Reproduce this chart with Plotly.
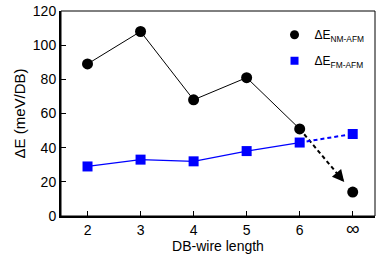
import plotly.graph_objects as go

lengths = [2, 3, 4, 5, 6]
inf_pos = 7
tick_vals = [2, 3, 4, 5, 6, 7]
tick_text = ["2", "3", "4", "5", "6", "<span style='font-size:19px'>∞</span>"]
y_ticks = [0, 20, 40, 60, 80, 100, 120]

nm_afm = [89, 108, 68, 81, 51]
nm_afm_inf = 14
fm_afm = [29, 33, 32, 38, 43]
fm_afm_inf = 48

FONT = "Liberation Sans, Arial, sans-serif"
BLUE = "#0000ff"

fig = go.Figure()

def arrow_pts(x0, y0, x1, y1, frac):
    return x0 + (x1 - x0) * frac, y0 + (y1 - y0) * frac

# dashed extrapolation lines
bx, by = arrow_pts(lengths[-1], nm_afm[-1], inf_pos, nm_afm_inf, 0.84)
fx, fy = arrow_pts(lengths[-1], fm_afm[-1], inf_pos, fm_afm_inf, 0.86)
fig.add_trace(go.Scatter(x=[lengths[-1], bx], y=[nm_afm[-1], by], mode="lines",
                         line=dict(color="black", width=2, dash="4px,3px"), showlegend=False))
fig.add_trace(go.Scatter(x=[lengths[-1], fx], y=[fm_afm[-1], fy], mode="lines",
                         line=dict(color=BLUE, width=2, dash="4px,3px"), showlegend=False))

# main series
fig.add_trace(go.Scatter(x=lengths, y=nm_afm, mode="lines",
                         line=dict(color="black", width=1), showlegend=False))
fig.add_trace(go.Scatter(x=lengths + [inf_pos], y=nm_afm + [nm_afm_inf], mode="markers",
                         marker=dict(symbol="circle", size=11, color="black"), showlegend=False))
fig.add_trace(go.Scatter(x=lengths, y=fm_afm, mode="lines",
                         line=dict(color=BLUE, width=1.2), showlegend=False))
fig.add_trace(go.Scatter(x=lengths + [inf_pos], y=fm_afm + [fm_afm_inf], mode="markers",
                         marker=dict(symbol="square", size=10, color=BLUE), showlegend=False))

# legend entries
fig.add_trace(go.Scatter(x=[None], y=[None], mode="markers", name="ΔE<sub>NM-AFM</sub>",
                         legendgroup="a",
                         marker=dict(symbol="circle", size=9, color="black")))
fig.add_trace(go.Scatter(x=[None], y=[None], mode="markers", name="ΔE<sub>FM-AFM</sub>",
                         legendgroup="b",
                         marker=dict(symbol="square", size=8, color=BLUE)))

# arrowheads
for (x0, y0, x1, y1, c) in [(lengths[-1], nm_afm[-1], bx, by, "black"),
                             (lengths[-1], fm_afm[-1], fx, fy, BLUE)]:
    sx, sy = arrow_pts(x0, y0, x1, y1, 0.9)
    fig.add_annotation(x=x1, y=y1, ax=sx, ay=sy, xref="x", yref="y", axref="x", ayref="y",
                       showarrow=True, arrowhead=2, arrowsize=1.2, arrowwidth=2,
                       arrowcolor=c, text="")

# thin frame (top/right)
fig.add_shape(type="rect", xref="paper", yref="paper", x0=0, y0=0, x1=1, y1=1,
              line=dict(color="black", width=1), layer="above")

fig.update_layout(
    width=382, height=256,
    margin=dict(l=61, r=7, t=11, b=40, autoexpand=False),
    paper_bgcolor="white", plot_bgcolor="white",
    font=dict(family=FONT, size=14, color="black"),
    legend=dict(x=0.68, y=0.955, xanchor="left", yanchor="top",
                bgcolor="rgba(0,0,0,0)", font=dict(size=12), itemwidth=30,
                tracegroupgap=7),
)
fig.update_xaxes(range=[1.5, 7.42], tickvals=tick_vals, ticktext=tick_text,
                 ticks="inside", ticklen=5, tickwidth=1, tickcolor="black",
                 showline=True, linecolor="black", linewidth=2, mirror=False,
                 showgrid=False, zeroline=False, automargin=False,
                 title=dict(text="DB-wire length", standoff=0, font=dict(size=14)),
                 tickfont=dict(size=14))
fig.update_yaxes(range=[0, 120], tickvals=y_ticks,
                 ticks="inside", ticklen=5, tickwidth=1, tickcolor="black",
                 showline=True, linecolor="black", linewidth=2, mirror=False,
                 showgrid=False, zeroline=False, automargin=False,
                 title=dict(text="ΔE (meV/DB)", standoff=4, font=dict(size=15)),
                 tickfont=dict(size=14))

# remove the browser's default 8px body margin so the figure fills the window
fig.write_html("out.html", config={"displayModeBar": False},
               post_script="document.body.style.margin='0px';")
